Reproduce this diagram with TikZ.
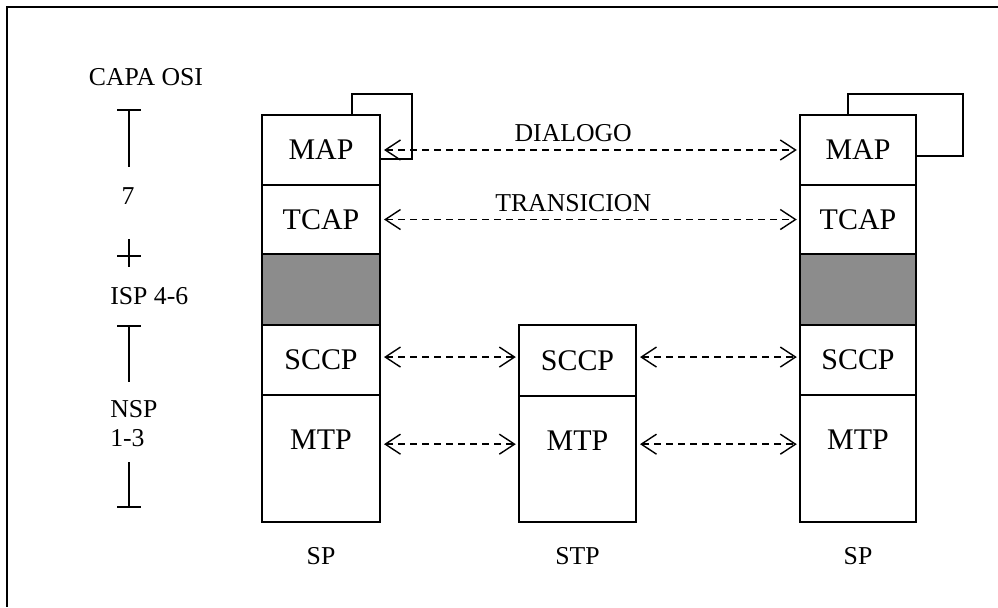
\documentclass[tikz,border=0pt]{standalone}
\usepackage{fontspec}
\setmainfont{Liberation Serif}
\usetikzlibrary{arrows.meta}

\tikzset{
  layer/.style={draw, line width=1.2pt, inner sep=0pt, outer sep=0pt, minimum width=2.95cm,
    font=\fontsize{21.3}{24}\selectfont},
  shaded/.style={layer, fill=black!45},
  dlink/.style={dash pattern=on 1.8mm off 1.2mm, line width=1pt,
    {Straight Barb[length=3.8mm,width=5mm]}-{Straight Barb[length=3.8mm,width=5mm]},
    shorten <=0.1cm, shorten >=0.08cm},
  lbl/.style={font=\fontsize{18.3}{22}\selectfont, inner sep=0pt},
  axis/.style={line width=1pt},
  loopline/.style={line width=1.1pt},
}

\begin{document}
\begin{tikzpicture}[x=0.025cm, y=-0.025cm]
    \useasboundingbox (0,0) rectangle (998,607);
    % Frame
    \draw[line width=1.5pt] (998,7) -- (7,7) -- (7,607);

    % OSI layer axis
    \node[lbl] (capa) at (146,77) {CAPA OSI};
    \draw[axis] (117,110) -- (141,110) (129,110) -- (129,167);
    \node[lbl] (l7) at (128,196) {7};
    \draw[axis] (117,256) -- (141,256) (129,239) -- (129,267);
    \node[lbl, anchor=west] (isp) at (110,296) {ISP 4-6};
    \draw[axis] (117,326) -- (141,326) (129,326) -- (129,382);
    \node[lbl, anchor=west] (nsp) at (110,409) {NSP};
    \node[lbl, anchor=west] (nsp13) at (110,438) {1-3};
    \draw[axis] (129,462) -- (129,507) (117,507) -- (141,507);

    % Left signalling point
    \node[layer, minimum height=1.75cm] (mapL) at (321,150) {MAP};
    \node[layer, minimum height=1.725cm, anchor=north] (tcapL) at (mapL.south) {TCAP};
    \node[shaded, minimum height=1.775cm, anchor=north] (ispL) at (tcapL.south) {};
    \node[layer, minimum height=1.75cm, anchor=north] (sccpL) at (ispL.south) {SCCP};
    \node[layer, minimum height=3.175cm, text depth=0.92cm, anchor=north] (mtpL) at (sccpL.south) {MTP};
    \node[lbl] (spL) at (321,556) {SP};

    % Transfer point
    \node[layer, minimum width=2.925cm, minimum height=1.775cm] (sccpM) at (577.5,360.5) {SCCP};
    \node[layer, minimum width=2.925cm, minimum height=3.15cm, text depth=0.92cm, anchor=north] (mtpM) at (sccpM.south) {MTP};
    \node[lbl] (stp) at (577.5,556) {STP};

    % Right signalling point
    \node[layer, minimum width=2.9cm, minimum height=1.75cm] (mapR) at (858,150) {MAP};
    \node[layer, minimum width=2.9cm, minimum height=1.725cm, anchor=north] (tcapR) at (mapR.south) {TCAP};
    \node[shaded, minimum width=2.9cm, minimum height=1.775cm, anchor=north] (ispR) at (tcapR.south) {};
    \node[layer, minimum width=2.9cm, minimum height=1.75cm, anchor=north] (sccpR) at (ispR.south) {SCCP};
    \node[layer, minimum width=2.9cm, minimum height=3.175cm, text depth=0.92cm, anchor=north] (mtpR) at (sccpR.south) {MTP};
    \node[lbl] (spR) at (858,556) {SP};

    % MAP loops
    \coordinate (lpL) at (352,94);
    \coordinate (lpLend) at (412,159);
    \draw[loopline] (lpL |- mapL.north) -- (lpL) -| (lpLend) -- (lpLend -| mapL.east);
    \coordinate (lpR) at (848,94);
    \coordinate (lpRend) at (963,156);
    \draw[loopline] (lpR |- mapR.north) -- (lpR) -| (lpRend) -- (lpRend -| mapR.east);

    % Peer links
    \draw[dlink] (mapL.east) -- node[lbl, pos=0.46, above=0.2cm] (dlg) {DIALOGO} (mapR.west);
    \draw[dlink] (tcapL.east) -- node[lbl, pos=0.46, above=0.18cm] (trn) {TRANSICION} (tcapR.west);
    \coordinate (sccpLine) at ([yshift=0.075cm]sccpL.east);
    \coordinate (mtpLine) at ([yshift=0.36cm]mtpL.east);
    \draw[dlink] (sccpLine) -- (sccpLine -| sccpM.west);
    \draw[dlink] (sccpLine -| sccpM.east) -- (sccpLine -| sccpR.west);
    \draw[dlink] (mtpLine) -- (mtpLine -| mtpM.west);
    \draw[dlink] (mtpLine -| mtpM.east) -- (mtpLine -| mtpR.west);

\end{tikzpicture}
\end{document}
